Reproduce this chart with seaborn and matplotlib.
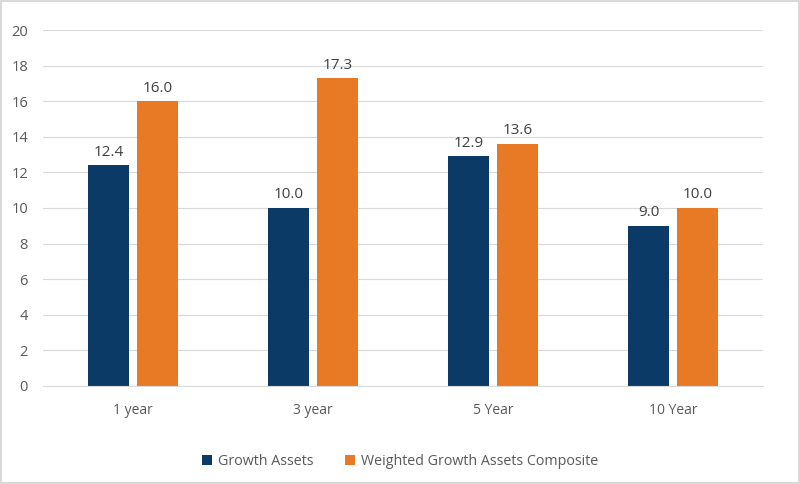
import pandas as pd
import matplotlib.pyplot as plt
import seaborn as sns

sns.set_style("white")
plt.rcParams['font.family'] = ['Open Sans', 'DejaVu Sans']

# Data
periods = ["1 year", "3 year", "5 Year", "10 Year"]
growth_assets = [12.4, 10.0, 12.9, 9.0]
weighted_composite = [16.0, 17.3, 13.6, 10.0]
series_names = ["Growth Assets", "Weighted Growth Assets Composite"]

df = pd.DataFrame({
    "Period": periods * 2,
    "Value": growth_assets + weighted_composite,
    "Series": [series_names[0]] * 4 + [series_names[1]] * 4,
})

colors = ["#0B3A66", "#E87A26"]
text_color = "#595959"

fig = plt.figure(figsize=(8, 4.84), dpi=100)
ax = fig.add_axes([0.054, 0.2025, 0.9, 0.7355])

sns.barplot(
    data=df,
    x="Period",
    y="Value",
    hue="Series",
    palette=colors,
    width=0.54,
    gap=0.16,
    saturation=1,
    linewidth=0,
    ax=ax,
)

for container in ax.containers:
    ax.bar_label(container, fmt="%.1f", padding=4, fontsize=11, color="#404040")

ax.set_ylim(0, 20)
ax.set_yticks(range(0, 21, 2))
ax.grid(axis="y", color="#D9D9D9", linewidth=0.8)
ax.set_axisbelow(True)
for side in ["top", "right", "left"]:
    ax.spines[side].set_visible(False)
ax.spines["bottom"].set_color("#D9D9D9")
ax.tick_params(axis="both", length=0, labelsize=10, colors=text_color)
ax.tick_params(axis="y", labelsize=10.5, pad=11)
ax.tick_params(axis="x", pad=12)
ax.set_xlabel("")
ax.set_ylabel("")

ax.legend(
    loc="center",
    bbox_to_anchor=(0.5, 0.046),
    bbox_transform=fig.transFigure,
    ncol=2,
    frameon=False,
    fontsize=10.3,
    labelcolor=text_color,
    handlelength=0.7,
    handleheight=0.7,
    handletextpad=0.4,
    columnspacing=2.2,
)

fig.patch.set_edgecolor("#D9D9D9")
fig.patch.set_linewidth(1.5)

plt.savefig("out.png", dpi=100, edgecolor=fig.get_edgecolor())
